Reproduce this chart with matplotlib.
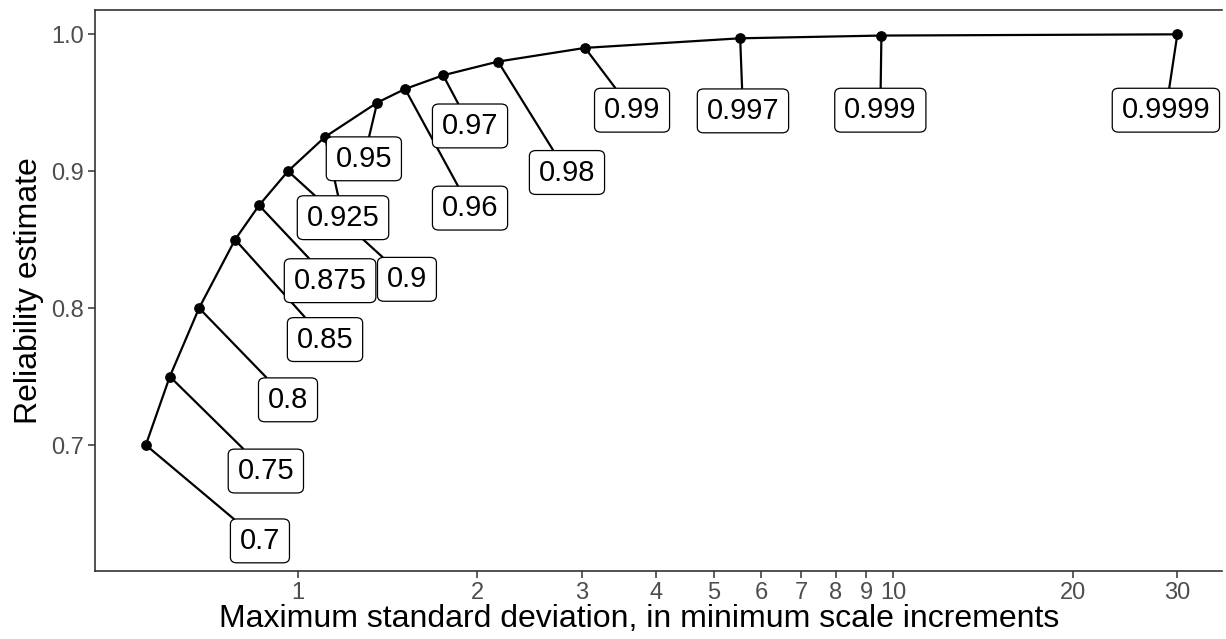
import matplotlib
matplotlib.use("Agg")
import matplotlib.pyplot as plt
import numpy as np

plt.rcParams['font.family'] = ['Liberation Sans', 'DejaVu Sans']

# reliability values and the max sd they map to
reliability = [0.7, 0.75, 0.8, 0.85, 0.875, 0.9, 0.925, 0.95, 0.96, 0.97,
               0.98, 0.99, 0.997, 0.999, 0.9999]
max_sd = [0.555, 0.609, 0.682, 0.784, 0.860, 0.962, 1.110, 1.358, 1.513,
          1.753, 2.168, 3.035, 5.53, 9.55, 30.0]
labels = ['0.7', '0.75', '0.8', '0.85', '0.875', '0.9', '0.925', '0.95',
          '0.96', '0.97', '0.98', '0.99', '0.997', '0.999', '0.9999']
# where the repelled labels ended up
label_x = [0.863, 0.883, 0.962, 1.110, 1.132, 1.524, 1.19, 1.29, 1.945,
           1.945, 2.83, 3.64, 5.59, 9.51, 28.7]
label_y = [0.630, 0.681, 0.733, 0.777, 0.820, 0.821, 0.866, 0.909, 0.873,
           0.933, 0.899, 0.9445, 0.944, 0.9445, 0.9445]

xticks = [1, 2, 3, 4, 5, 6, 7, 8, 9, 10, 20, 30]
yticks = [0.7, 0.8, 0.9, 1.0]

fig = plt.figure(figsize=(12.26, 6.39), dpi=100)
ax = fig.add_axes([0.0775, 0.1064, 0.9195, 0.8776])

ax.plot(max_sd, reliability, color='black', lw=1.6, zorder=2)
ax.scatter(max_sd, reliability, color='black', s=45, zorder=3)

for sd, r, lab, lx, ly in zip(max_sd, reliability, labels, label_x, label_y):
    ax.annotate(lab, xy=(sd, r), xytext=(lx, ly), ha='center', va='center',
                fontsize=21, zorder=4,
                bbox=dict(boxstyle='round,pad=0.32,rounding_size=0.22',
                          mutation_aspect=0.85,
                          fc='white', ec='black', lw=0.9),
                arrowprops=dict(arrowstyle='-', color='black', lw=1.6,
                                shrinkA=0, shrinkB=0))

ax.set_xscale('log')
ax.set_xlim(0.456, 35.7)
ax.set_ylim(0.608, 1.0175)
ax.set_xticks(xticks)
ax.set_xticklabels([str(t) for t in xticks])
ax.minorticks_off()
ax.set_yticks(yticks)
ax.set_yticklabels(['0.7', '0.8', '0.9', '1.0'])

for s in ['left', 'bottom', 'top']:
    ax.spines[s].set_color('#333333')
    ax.spines[s].set_linewidth(1.2)
ax.spines['right'].set_visible(False)
ax.tick_params(colors='#333333', labelcolor='#4D4D4D', labelsize=17,
               length=5, width=1.1, pad=3)

ax.set_xlabel('Maximum standard deviation, in minimum scale increments',
              fontsize=23)
ax.xaxis.set_label_coords(0.483, -0.058)
ax.set_ylabel('Reliability estimate', fontsize=23, labelpad=5)

fig.savefig('out.png', dpi=100)
